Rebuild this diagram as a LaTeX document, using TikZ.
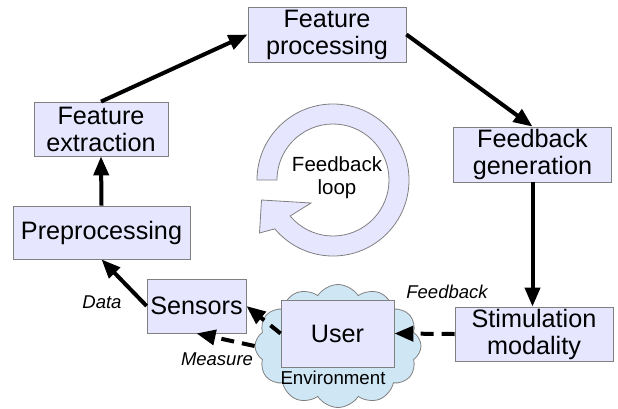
\documentclass[tikz,border=0pt]{standalone}
\usepackage{fontspec}
\setmainfont{Liberation Sans}
\usetikzlibrary{arrows.meta,shapes.symbols,calc}
\definecolor{boxfill}{RGB}{230,230,255}
\definecolor{boxdraw}{RGB}{128,128,128}
\definecolor{cloudfill}{RGB}{207,231,245}
\begin{document}
\begin{tikzpicture}[x=1pt,y=1pt,
  box/.style={draw=boxdraw, line width=0.8pt, fill=boxfill, align=center, inner sep=0pt, font=\fontsize{25.2}{27}\selectfont},
  conn/.style={line width=4pt, -{Triangle[length=19pt,width=15pt]}},
  dconn/.style={conn, dash pattern=on 13pt off 8pt},
  lbl/.style={font=\fontsize{18.5}{21}\selectfont\itshape, inner sep=0pt}]
\useasboundingbox (0,0) rectangle (618,-408);
% cloud
\node[cloud, draw=boxdraw, line width=0.8pt, fill=cloudfill, cloud puffs=12, cloud puff arc=115, aspect=1.35, minimum width=166pt, minimum height=123pt, inner sep=0pt] (cloud) at (338,-346) {};
\node[font=\fontsize{18.7}{21}\selectfont, inner sep=0pt] (env) at (333,-378) {Environment};
% boxes
\node[box, minimum width=158pt, minimum height=55pt] (fp) at (327,-34.5) {Feature\\processing};
\node[box, minimum width=134pt, minimum height=54pt] (fe) at (101,-129) {Feature\\extraction};
\node[box, minimum width=158pt, minimum height=55pt] (fg) at (532.5,-154.5) {Feedback\\generation};
\node[box, minimum width=177pt, minimum height=53pt] (pre) at (101.5,-232.5) {Preprocessing};
\node[box, minimum width=99pt, minimum height=54pt] (sen) at (196.5,-306) {Sensors};
\node[box, minimum width=113pt, minimum height=67pt] (user) at (337.5,-333.5) {User};
\node[box, minimum width=158pt, minimum height=54pt] (stim) at (534,-334) {Stimulation\\modality};
% feedback loop arrow
\coordinate (c) at (333,-180);
\draw[boxdraw, fill=boxfill, line width=0.8pt] ($(c)+(180:56pt)$) -- ($(c)+(180:76pt)$)
  arc[start angle=180, end angle=-140, radius=76pt] -- (259.5,-233) -- (261.5,-200) -- (311,-203)
  -- ($(c)+(-140:56pt)$) arc[start angle=-140, end angle=180, radius=56pt] -- cycle;
\node[font=\fontsize{20.5}{23}\selectfont, align=center, inner sep=0pt] (loop) at (337,-178) {Feedback\\loop};
% connectors
\draw[conn] (pre.north) -- (fe.south);
\draw[conn] (fe.north) -- (fp.west);
\draw[conn] (fp.east) -- (fg.north);
\draw[conn] (fg.south) -- (fg.south |- stim.north);
\draw[conn] (sen.west) -- (pre.south);
\draw[dconn] (user.west) -- (sen.east);
\draw[dconn] (cloud.west) -- (sen.south);
\draw[dconn] (stim.west) -- (user.east);
% labels
\node[lbl] (ldata) at (102,-302) {Data};
\node[lbl] (lmeas) at (217,-359) {Measure};
\node[lbl] (lfb) at (447,-292) {Feedback};
\end{tikzpicture}
\end{document}
